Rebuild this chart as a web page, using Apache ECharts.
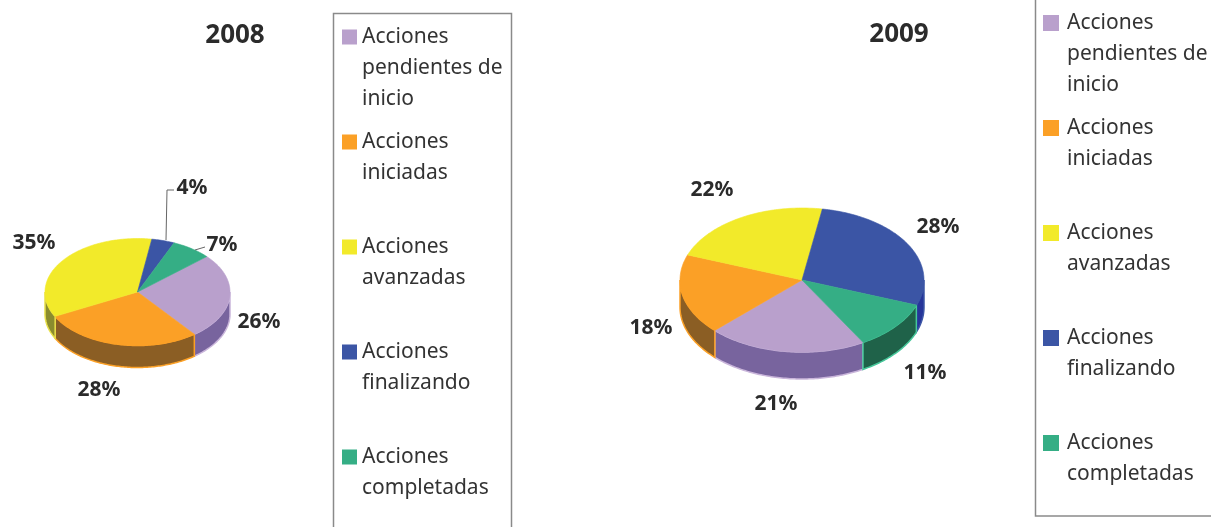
<!DOCTYPE html>
<html><head><meta charset="utf-8">
<style>html,body{margin:0;padding:0;background:#fff}#c{width:1211px;height:527px}</style>
<script src="https://cdn.jsdelivr.net/npm/echarts@6/dist/echarts.min.js"></script>
</head><body><div id="c"></div>
<script>
const years = ['2008', '2009'];
const categories = ['Acciones pendientes de inicio', 'Acciones iniciadas', 'Acciones avanzadas', 'Acciones finalizando', 'Acciones completadas'];
const legendLines = ['Acciones\npendientes de\ninicio', 'Acciones\niniciadas\n ', 'Acciones\navanzadas\n ', 'Acciones\nfinalizando\n ', 'Acciones\ncompletadas\n '];
const values2008 = [26, 28, 35, 4, 7];
const values2009 = [21, 18, 22, 28, 11];
const topColors = ['#B9A0CC', '#FBA026', '#F2EA2A', '#3B55A5', '#35AE85'];
const wallColors = ['#78649E', '#8B5E24', '#8A8C2E', '#26359A', '#1F6249'];
const rimColors = ['#C9B5DA', '#FBA026', '#E8E04A', '#3B55A5', '#46C79A'];

const pies = [
  {cx: 137.5, cy: 292, rx: 92.5, ry: 53.5, depth: 22, start: 48.5, rimWidth: 1.5,
   labels: [[259, 322], [99, 390], [34, 243], [192, 188], [222, 245]],
   leaders: {3: [[166, 240], [167, 190], [174, 190]], 4: [[195, 250], [205, 247]]}},
  {cx: 802, cy: 280, rx: 122, ry: 72, depth: 27, start: 150, rimWidth: 1.5,
   labels: [[776, 404], [651, 328], [712, 190], [938, 227], [925, 373]],
   leaders: {}}
];
const allValues = [values2008, values2009];

function renderSlice(catIndex) {
  return function (params, api) {
    const yi = params.dataIndex, pie = pies[yi], vals = allValues[yi];
    const value = api.value(1);
    let before = 0;
    for (let i = 0; i < catIndex; i++) before += vals[i];
    const a0 = pie.start + before * 3.6, a1 = a0 + value * 3.6;
    const pt = (deg, dy) => {
      const r = deg * Math.PI / 180;
      return [pie.cx + pie.rx * Math.sin(r), pie.cy - pie.ry * Math.cos(r) + (dy || 0)];
    };
    const children = [];
    // outer wall: only the front half of the rim can be seen
    [[90, 270], [450, 630]].forEach(function (win) {
      const s = Math.max(a0, win[0]), e = Math.min(a1, win[1]);
      if (e <= s) return;
      const pts = [];
      for (let d = s; d < e; d += 1) pts.push(pt(d));
      pts.push(pt(e));
      for (let d = e; d > s; d -= 1) pts.push(pt(d, pie.depth));
      pts.push(pt(s, pie.depth));
      children.push({type: 'polygon', z2: 1, shape: {points: pts},
        style: {fill: wallColors[catIndex], stroke: rimColors[catIndex], lineWidth: pie.rimWidth}});
    });
    // top face
    const top = [[pie.cx, pie.cy]];
    for (let d = a0; d < a1; d += 1) top.push(pt(d));
    top.push(pt(a1));
    children.push({type: 'polygon', z2: 2, shape: {points: top},
      style: {fill: topColors[catIndex], stroke: topColors[catIndex], lineWidth: 0.6}});
    const lead = pie.leaders[catIndex];
    if (lead) children.push({type: 'polyline', z2: 3, shape: {points: lead},
      style: {fill: null, stroke: '#666', lineWidth: 1}});
    const lp = pie.labels[catIndex];
    children.push({type: 'text', z2: 4, x: lp[0], y: lp[1], style: {
      text: value + '%', fill: '#2b2b2b', align: 'center', verticalAlign: 'middle',
      font: 'bold 21px "Noto Sans"'}});
    return {type: 'group', children: children};
  };
}

const legendCommon = {
  orient: 'vertical', selectedMode: false, padding: 0, itemHeight: 93, itemGap: 12, height: 530,
  data: categories,
  formatter: n => legendLines[categories.indexOf(n)],
  textStyle: {fontFamily: '"Noto Sans"', fontSize: 21, lineHeight: 31, color: '#333'}
};

const chart = echarts.init(document.getElementById('c'), null, {renderer: 'canvas'});
chart.setOption({
  animation: false,
  backgroundColor: '#fff',
  title: [
    {text: years[0], left: 235, top: 23, textAlign: 'center', padding: 0,
     textStyle: {fontFamily: '"Noto Sans"', fontWeight: 'bold', fontSize: 26, color: '#2b2b2b'}},
    {text: years[1], left: 899, top: 22, textAlign: 'center', padding: 0,
     textStyle: {fontFamily: '"Noto Sans"', fontWeight: 'bold', fontSize: 26, color: '#2b2b2b'}}
  ],
  legend: [
    Object.assign({}, legendCommon, {left: 342, top: 21.5, itemWidth: 15,
      icon: 'path://M0,8L15,8L15,23L0,23Z M0,0L0.01,0Z M0,93L0.01,93Z'}),
    Object.assign({}, legendCommon, {left: 1043, top: 7.5, itemWidth: 19,
      icon: 'path://M0,7.5L16,7.5L16,23.5L0,23.5Z M0,0L0.01,0Z M19,93L18.99,93Z'})
  ],
  graphic: [
    {type: 'rect', z: -1, silent: true, shape: {x: 333.5, y: 13.5, width: 178, height: 530},
     style: {fill: 'none', stroke: '#8a8a8a', lineWidth: 1.5}},
    {type: 'rect', z: -1, silent: true, shape: {x: 1035.5, y: -20, width: 200, height: 536},
     style: {fill: 'none', stroke: '#8a8a8a', lineWidth: 1.5}}
  ],
  series: categories.map((name, i) => ({
    type: 'custom', name: name, coordinateSystem: 'none',
    itemStyle: {color: topColors[i]},
    renderItem: renderSlice(i),
    data: [[0, values2008[i]], [1, values2009[i]]],
    silent: true, clip: false
  }))
});
</script></body></html>
